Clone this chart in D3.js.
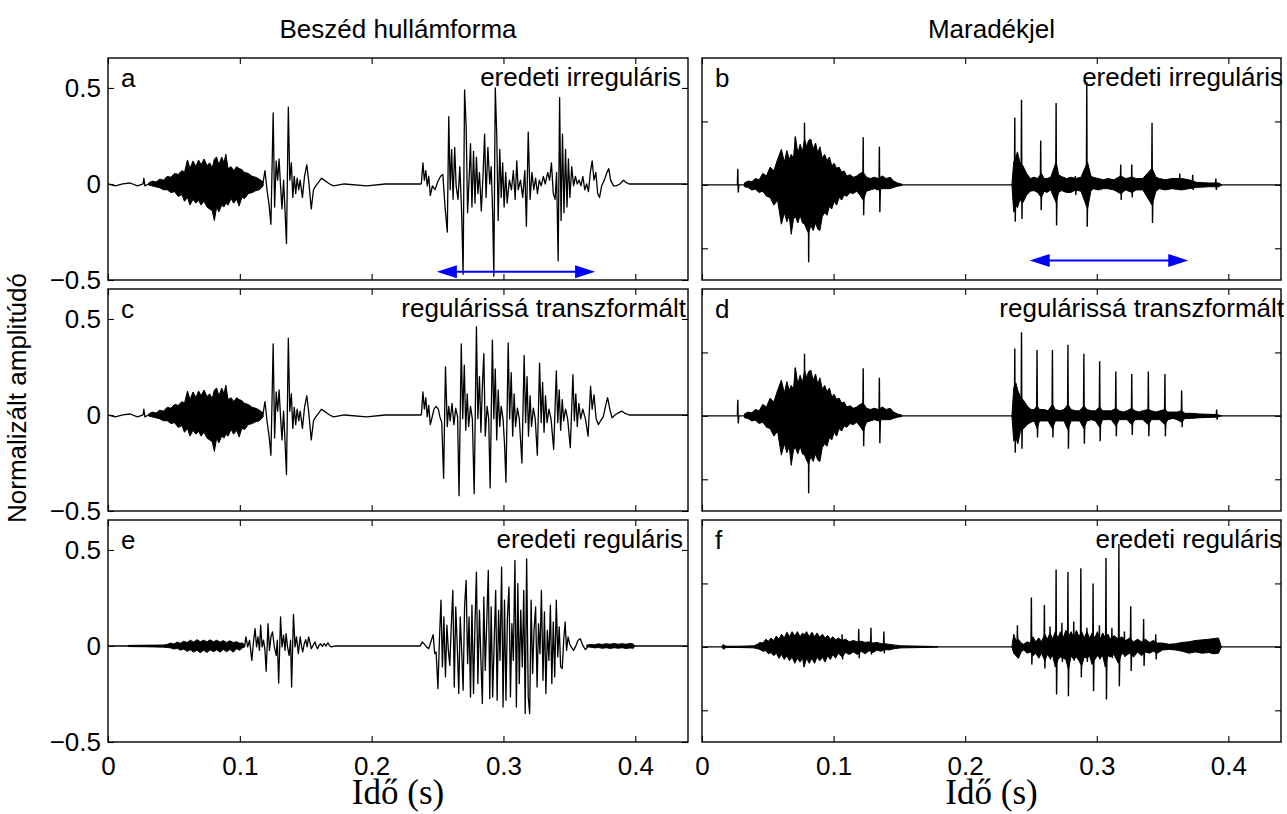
<!DOCTYPE html>
<html><head><meta charset="utf-8">
<script src="https://cdn.jsdelivr.net/npm/d3@7"></script>
<style>body{margin:0;background:#fff}svg{display:block}</style>
</head><body>
<svg id="chart" width="1287" height="814"></svg>
<script>
// ---------------- DATA (time in ms, amplitude normalised) ----------------
const xTicks = [0, 0.1, 0.2, 0.3, 0.4];
const xTickLabels = ["0", "0.1", "0.2", "0.3", "0.4"];
const yTicks = [-0.5, 0, 0.5];
const yTickLabels = ["\u22120.5", "0", "0.5"];
const columnTitles = ["Beszéd hullámforma", "Maradékjel"];
const panelLetters = ["a", "b", "c", "d", "e", "f"];
const panelNotes = ["eredeti irreguláris", "eredeti irreguláris", "regulárissá transzformált",
                    "regulárissá transzformált", "eredeti reguláris", "eredeti reguláris"];
const xLabel = "Idő (s)";
const yLabel = "Normalizált amplitúdó";

// first syllable of the speech waveform (panels a and c are identical there)
const s1Trace = [[0,0],[5.6,-0.01],[11.2,0],[16.8,0.005],[22.4,-0.01],[26.6,0],[27.2,0.03],[28.0,-0.01],[30.8,0],
 [117.7,0.01],[119.1,0.07],[120.6,-0.03],[122.2,-0.11],[123.6,-0.21],[125.3,0.37],[126.4,-0.12],[127.6,0.12],
 [128.7,0.02],[129.8,0.13],[130.9,-0.01],[132.0,-0.13],[133.2,0.02],[134.3,-0.14],[135.4,-0.31],[136.8,0.40],
 [137.9,0.02],[139.1,0.11],[140.2,-0.07],[141.3,0.04],[142.4,-0.05],[143.5,0.03],[144.7,-0.03],[145.8,0.02],
 [147.5,-0.07],[149.1,0.04],[150.8,0.10],[152.2,0.02],[154.2,-0.13],[155.9,-0.03],[157.6,-0.01],[159.8,0.01],
 [162.0,0.03],[164.0,0.02],[166.0,0.01],[168.2,0],[171.0,-0.01],[179.4,0],[196.2,-0.01],[210.3,0],[224.3,0],[237.7,0]];
const s1Env = [[30.8,0.005,-0.005],[33.6,0.015,-0.01],[36.4,0.01,-0.015],[39.2,0.025,-0.02],[42.1,0.02,-0.03],
 [44.9,0.04,-0.03],[47.7,0.035,-0.045],[50.5,0.055,-0.04],[53.3,0.05,-0.065],[56.1,0.07,-0.055],[58.0,0.06,-0.09],
 [60.3,0.125,-0.07],[62.2,0.08,-0.11],[64.5,0.12,-0.08],[66.7,0.09,-0.10],[68.7,0.125,-0.085],[70.6,0.10,-0.11],
 [72.9,0.13,-0.09],[75.1,0.095,-0.12],[77.1,0.11,-0.13],[79.1,0.085,-0.14],[80.7,0.13,-0.19],[82.4,0.14,-0.12],
 [84.1,0.10,-0.145],[86.3,0.14,-0.11],[88.0,0.11,-0.12],[89.4,0.155,-0.10],[91.1,0.08,-0.11],[93.4,0.09,-0.075],
 [95.3,0.07,-0.10],[97.6,0.09,-0.08],[99.5,0.08,-0.115],[101.5,0.075,-0.07],[103.7,0.06,-0.075],[106.5,0.055,-0.05],
 [109.3,0.04,-0.045],[112.1,0.035,-0.035],[114.9,0.025,-0.03],[117.7,0.01,-0.01]];

// second syllable, panel a (original irregular)
const aTrace2 = [[237.7,0],[238.9,0.11],[240.0,0.02],[241.1,0.07],[242.2,-0.01],[243.3,0.04],[244.5,-0.06],[246.1,-0.01],
 [248.1,-0.03],[250.1,0.01],[252.3,0.04],[254.0,0.05],[255.7,-0.12],[257.4,-0.25],[258.5,0.35],[259.6,-0.03],
 [260.7,0.18],[261.8,-0.08],[263.0,0.19],[264.1,-0.01],[265.5,-0.08],[266.9,0.09],[268.3,-0.15],[269.4,-0.47],
 [270.5,0.49],[271.7,0.30],[272.8,-0.15],[273.9,0.02],[275.0,0.21],[276.1,-0.12],[277.3,0.17],[278.4,-0.10],
 [279.5,0.14],[280.6,-0.05],[281.8,0.06],[283.2,-0.14],[284.6,0.06],[285.7,0.26],[286.8,-0.07],[288.2,0.19],
 [289.6,0],[290.7,0.09],[291.8,-0.15],[292.7,-0.48],[293.8,0.50],[294.9,0.26],[296.0,-0.19],[297.2,0.18],
 [298.3,-0.07],[299.4,0.11],[300.5,-0.12],[301.7,0.06],[302.8,-0.10],[304.5,0.02],[306.1,-0.03],[307.5,0.07],
 [308.9,-0.08],[310.1,0.12],[311.2,-0.03],[312.9,0.02],[314.6,-0.07],[316.2,0.07],[317.4,-0.22],[318.8,0.27],
 [320.2,-0.08],[321.6,0.06],[323.0,-0.03],[324.4,0.03],[325.8,-0.05],[327.2,0.02],[328.6,-0.01],[330.3,0.04],
 [331.7,0],[333.6,0.06],[335.0,0.02],[336.4,0.11],[337.8,-0.05],[339.2,-0.08],[340.3,0.06],[341.5,-0.40],
 [342.6,0.45],[343.7,-0.19],[344.8,0.26],[345.9,-0.15],[347.1,0.18],[348.2,-0.12],[349.3,0.13],[350.4,-0.07],
 [351.8,0.09],[353.2,-0.01],[354.6,0.04],[356.0,0],[357.4,0.02],[358.8,-0.01],[360.2,0.04],[361.7,-0.03],
 [363.1,0],[364.5,-0.04],[365.9,0.06],[367.3,0.12],[368.7,0.02],[370.1,0.06],[371.5,-0.05],[372.9,-0.07],
 [374.5,-0.01],[376.5,0.02],[378.5,0.06],[379.9,0.08],[381.3,0.02],[383.5,-0.01],[385.5,-0.01],[388.3,0],
 [391.1,0.02],[392.5,0.01],[395.3,0],[398.1,0],[440,0]];

// second syllable, panel c (transformed to regular)
const cTrace2 = [[237.7,0],[238.9,0.12],[240.0,0.03],[241.1,0.09],[242.2,-0.01],[243.3,0.05],[244.5,-0.05],[245.6,-0.02],
 [247.3,0.03],[248.9,0.045],[250.6,0.03],[251.8,-0.01],[253.2,-0.04],[254.6,-0.33],[256.0,0.25],[257.4,-0.06],
 [258.5,0.045],[259.6,-0.03],[261.0,0.06],[262.4,-0.05],[263.8,0.035],[265.2,-0.01],[266.3,-0.42],[268.0,0.37],
 [269.1,-0.02],[270.3,0.26],[271.4,-0.08],[272.5,0.11],[273.6,-0.06],[275.0,0.045],[276.4,-0.02],[277.8,-0.41],
 [279.5,0.46],[280.6,-0.02],[281.8,0.20],[282.9,-0.09],[284.0,0.15],[285.1,0.32],[286.2,-0.11],[287.6,0.045],
 [288.8,-0.02],[289.9,-0.38],[291.6,0.39],[292.7,-0.02],[293.8,0.24],[294.9,-0.13],[296.0,0.13],[297.2,-0.06],
 [298.3,0.045],[299.7,-0.02],[300.8,-0.15],[301.9,-0.35],[303.6,0.375],[304.7,-0.02],[305.9,0.22],[307.0,-0.11],
 [308.1,0.11],[309.2,-0.06],[310.6,0.035],[312.0,-0.02],[314.0,-0.25],[315.7,0.31],[316.8,-0.04],[317.9,0.20],
 [319.0,-0.11],[320.2,0.10],[321.3,-0.06],[322.7,0.035],[324.1,-0.02],[325.7,-0.21],[327.4,0.27],[328.6,-0.04],
 [329.7,0.17],[330.8,-0.09],[331.9,0.10],[333.1,-0.04],[334.5,0.03],[336.1,-0.02],[338.1,-0.18],[340.1,0.23],
 [341.2,-0.04],[342.3,0.13],[343.4,-0.08],[344.6,0.08],[345.7,-0.03],[347.1,0.03],[348.7,-0.02],[350.7,-0.17],
 [352.7,0.21],[353.8,-0.03],[354.9,0.11],[356.0,-0.06],[357.2,0.06],[358.6,-0.02],[360.2,0.03],[362.2,-0.02],
 [364.2,-0.11],[366.1,0.15],[367.3,0.03],[368.7,0.105],[370.3,-0.02],[372.0,-0.05],[373.7,-0.03],[375.7,-0.01],
 [377.4,0.045],[379.0,0.09],[380.7,0.03],[382.4,-0.015],[384.6,0],[386.9,0.01],[389.7,0.02],[391.9,0.01],
 [395.3,0],[440,0]];

// panel e (original regular speech)
const eTrace = [[0,0],[15.4,0],[103.7,0],[104.6,0.047],[106.0,-0.005],[107.4,0.03],[109.1,-0.075],[110.5,0.03],
 [111.6,0.09],[112.7,-0.005],[113.8,0.047],[114.9,-0.023],[115.8,0.108],[116.9,-0.005],[118.0,0.03],[119.1,-0.023],
 [120.0,-0.132],[121.4,0.116],[122.5,-0.023],[123.6,0.047],[124.8,0.073],[126.2,-0.005],[127.6,-0.049],[128.4,0.03],
 [129.5,-0.193],[130.9,0.151],[132.0,-0.005],[133.2,0.056],[134.3,-0.023],[135.1,0.064],[136.2,-0.005],[137.4,-0.049],
 [138.5,0.03],[139.3,-0.214],[140.7,0.165],[141.9,-0.005],[143.0,0.047],[144.4,-0.04],[145.8,0.047],[146.9,-0.005],
 [147.7,-0.031],[148.9,0.012],[150.0,0.033],[151.1,-0.005],[152.2,0.047],[153.4,0.012],[154.2,-0.014],[155.6,0.003],
 [157.0,0.021],[158.1,-0.002],[159.0,-0.014],[160.1,0.003],[161.2,0.012],[162.6,-0.002],[164.0,0.012],[165.4,0],
 [166.8,0.016],[168.2,0],[169.6,-0.005],[172.4,0],[236.9,0],[238.3,0.021],[239.7,0.012],[241.7,-0.005],
 [243.3,-0.014],[245.3,0.03],[246.7,0.059],[247.8,-0.04],[248.9,-0.031],[250.3,-0.222],[251.5,0.047],[252.6,0.238],
 [253.7,-0.109],[254.8,0.151],[256.0,-0.161],[257.1,0.108],[258.2,-0.023],[259.3,-0.101],[260.4,0.099],[261.6,0.29],
 [262.7,-0.214],[263.8,0.203],[264.9,0.012],[266.1,-0.248],[267.2,0.151],[268.3,-0.023],[269.4,-0.231],[270.5,0.203],
 [271.7,0.342],[272.8,-0.092],[273.9,0.151],[275.0,-0.266],[276.1,0.212],[277.3,-0.248],[278.4,0.116],[279.5,0.385],
 [280.6,-0.196],[281.8,0.186],[282.9,-0.075],[284.0,-0.30],[285.1,0.255],[286.2,-0.127],[287.4,0.142],[288.5,0.394],
 [289.6,-0.274],[290.7,0.203],[291.8,-0.266],[293.0,0.03],[294.1,0.29],[295.2,-0.283],[296.3,0.186],[297.4,-0.075],
 [298.6,0.411],[299.7,-0.318],[300.8,0.238],[301.9,-0.283],[303.0,0.151],[304.2,0.307],[305.3,-0.266],[306.4,0.116],
 [307.5,-0.075],[308.7,0.446],[309.8,-0.318],[310.9,0.325],[312.0,-0.196],[313.1,0.186],[314.3,-0.109],[315.4,0.29],
 [316.5,-0.352],[317.6,0.453],[318.8,-0.266],[319.9,-0.352],[321.0,0.238],[322.1,-0.144],[323.2,0.082],[324.4,0.203],
 [325.5,-0.214],[326.6,0.116],[327.7,-0.04],[328.8,0.29],[330.0,-0.179],[331.1,0.177],[332.2,-0.248],[333.3,0.082],
 [334.5,-0.075],[335.6,0.212],[336.7,-0.196],[337.8,0.125],[338.9,-0.161],[340.1,0.238],[341.2,-0.057],[342.3,0.099],
 [343.4,-0.109],[344.6,-0.118],[345.7,0.03],[346.8,0.125],[347.9,-0.023],[349.0,0.047],[350.2,0.012],[351.3,-0.005],
 [353.2,-0.023],[354.9,0],[356.6,0.03],[358.3,0.038],[360.2,0.003],[362.2,-0.019],[364.5,0],[399.5,0],[440,0]];
const eEnv = [[15.4,0.003,-0.003],[28.0,0.004,-0.004],[42.1,0.005,-0.006],[44.9,0.008,-0.008],[47.5,0.015,-0.01],
 [50.0,0.01,-0.016],[52.5,0.02,-0.012],[55.0,0.014,-0.022],[57.5,0.025,-0.016],[60.0,0.018,-0.028],[62.5,0.03,-0.02],
 [65.0,0.02,-0.032],[67.5,0.033,-0.022],[70.0,0.022,-0.035],[72.5,0.03,-0.022],[75.0,0.022,-0.034],[77.5,0.032,-0.02],
 [80.0,0.022,-0.03],[82.5,0.03,-0.02],[85.0,0.02,-0.032],[87.5,0.028,-0.018],[90.0,0.018,-0.03],[92.5,0.027,-0.018],
 [95.0,0.018,-0.032],[97.5,0.022,-0.015],[100.0,0.014,-0.022],[102.0,0.016,-0.01],[103.7,0.005,-0.005]];
const eEnv2 = [[363.1,0.004,-0.004],[366.0,0.008,-0.006],[369.0,0.006,-0.01],[372.0,0.011,-0.008],[375.0,0.008,-0.012],
 [378.0,0.012,-0.009],[381.0,0.009,-0.013],[384.0,0.013,-0.009],[387.0,0.009,-0.012],[390.0,0.012,-0.009],
 [393.0,0.009,-0.013],[396.0,0.013,-0.01],[398.5,0.01,-0.012],[399.5,0,0]];

// residual signal: first syllable shared by panels b and d
const r1Env = [[32.2,0.015,-0.015],[35.0,0.03,-0.02],[37.8,0.025,-0.04],[40.6,0.05,-0.035],[43.4,0.04,-0.06],
 [46.2,0.09,-0.05],[49.0,0.07,-0.09],[51.8,0.14,-0.10],[54.6,0.11,-0.16],[57.4,0.20,-0.12],[60.3,0.28,-0.31],
 [62.6,0.18,-0.22],[64.5,0.27,-0.29],[66.3,0.20,-0.24],[67.8,0.24,-0.39],[69.5,0.21,-0.27],[71.0,0.38,-0.25],
 [72.8,0.25,-0.30],[74.6,0.32,-0.24],[76.3,0.26,-0.30],[78.0,0.36,-0.31],[79.5,0.30,-0.35],[81.0,0.35,-0.38],
 [82.7,0.36,-0.32],[84.5,0.28,-0.36],[86.3,0.33,-0.30],[88.0,0.25,-0.35],[89.6,0.30,-0.36],[91.4,0.21,-0.25],
 [93.2,0.24,-0.22],[95.0,0.19,-0.24],[96.8,0.22,-0.17],[98.6,0.15,-0.19],[100.4,0.17,-0.13],[102.3,0.13,-0.16],
 [104.2,0.14,-0.10],[106.1,0.10,-0.12],[108.0,0.11,-0.08],[110.0,0.07,-0.09],[112.5,0.08,-0.06],[115.0,0.06,-0.07],
 [117.5,0.07,-0.05],[120.0,0.09,-0.08],[122.5,0.10,-0.12],[125.0,0.06,-0.05],[128.0,0.05,-0.04],[131.0,0.06,-0.03],
 [134.0,0.05,-0.04],[137.0,0.07,-0.03],[140.0,0.05,-0.03],[143.0,0.06,-0.03],[145.5,0.03,-0.02],[148.6,0.015,-0.01],
 [152.0,0.005,-0.005]];
const r1Spikes = [[27.2,0.126,-0.06],[70.9,0.38,-0.20],[77.9,0.49,-0.20],[80.7,0.30,-0.61],[122.5,0.375,-0.24],
 [134.8,0.30,-0.215]];
const zeroLine = [[0,0],[440,0]];

// panel b second syllable
const bEnv2 = [[235.5,0,0],[236.9,0.18,-0.215],[238.5,0.22,-0.16],[239.7,0.26,-0.18],[241.5,0.18,-0.12],
 [243.9,0.15,-0.14],[246.7,0.09,-0.08],[249.5,0.05,-0.05],[252.3,0.06,-0.045],[255.0,0.05,-0.06],[257.9,0.09,-0.10],
 [260.0,0.05,-0.05],[262.1,0.05,-0.06],[265.0,0.06,-0.04],[269.1,0.18,-0.14],[271.0,0.08,-0.06],[273.3,0.065,-0.045],
 [277.0,0.05,-0.06],[280.3,0.06,-0.06],[284.0,0.05,-0.04],[288.0,0.06,-0.05],[293.0,0.18,-0.19],[295.5,0.07,-0.05],
 [297.2,0.06,-0.03],[301.0,0.05,-0.04],[305.0,0.04,-0.03],[308.4,0.05,-0.03],[313.0,0.04,-0.04],[318.2,0.07,-0.07],
 [322.0,0.05,-0.04],[326.6,0.06,-0.06],[330.0,0.05,-0.04],[335.0,0.05,-0.04],[342.0,0.13,-0.16],[345.0,0.06,-0.05],
 [347.6,0.05,-0.03],[352.0,0.04,-0.04],[357.0,0.05,-0.03],[364.5,0.05,-0.04],[370.0,0.04,-0.03],[375.7,0.02,-0.02],
 [385.0,0.015,-0.015],[392.5,0.015,-0.015],[395.3,0,0]];
const bSpikes2 = [[237.7,0.53,-0.29],[242.8,0.67,-0.27],[257.4,0.35,-0.20],[269.1,0.645,-0.32],[292.4,0.81,-0.33],
 [283.7,0.07,-0.08],[318.2,0.16,-0.12],[326.6,0.16,-0.10],[342.0,0.49,-0.30],[363.1,0.09,-0.04],[372.9,0.08,-0.04],
 [390.5,0.05,-0.04]];

// panel d second syllable
const dEnv2 = [[235.5,0,0],[236.9,0.22,-0.2],[238.5,0.26,-0.17],[240.0,0.20,-0.22],[242.0,0.15,-0.12],
 [244.5,0.12,-0.10],[247.0,0.08,-0.07],[250.0,0.05,-0.05],[252.5,0.05,-0.04],[254.6,0.08,-0.10],[256.5,0.05,-0.04],
 [260.0,0.05,-0.04],[263.0,0.04,-0.04],[266.3,0.09,-0.10],[268.5,0.05,-0.04],[272.0,0.04,-0.04],[275.0,0.05,-0.04],
 [278.1,0.09,-0.11],[280.5,0.05,-0.04],[284.0,0.04,-0.04],[287.0,0.04,-0.04],[290.2,0.08,-0.10],[292.5,0.05,-0.04],
 [296.0,0.04,-0.03],[299.0,0.04,-0.04],[302.2,0.07,-0.09],[304.5,0.04,-0.03],[308.0,0.04,-0.03],[311.0,0.04,-0.03],
 [314.5,0.06,-0.08],[317.0,0.04,-0.03],[320.0,0.03,-0.03],[323.0,0.04,-0.03],[326.6,0.06,-0.07],[329.0,0.04,-0.03],
 [332.0,0.03,-0.03],[335.0,0.04,-0.03],[339.2,0.05,-0.07],[341.5,0.04,-0.03],[345.0,0.03,-0.03],[348.0,0.04,-0.03],
 [351.8,0.05,-0.07],[354.0,0.03,-0.03],[358.0,0.03,-0.02],[361.0,0.03,-0.03],[364.5,0.04,-0.05],[367.0,0.02,-0.02],
 [372.0,0.02,-0.02],[378.0,0.015,-0.015],[391.0,0.01,-0.01],[395.0,0,0]];
const dSpikes2 = [[237.7,0.53,-0.29],[242.8,0.66,-0.26],[254.6,0.52,-0.17],[266.3,0.52,-0.17],[278.1,0.56,-0.26],
 [290.2,0.49,-0.22],[302.2,0.43,-0.20],[314.5,0.35,-0.16],[326.6,0.33,-0.15],[339.2,0.35,-0.16],[351.8,0.33,-0.16],
 [364.5,0.20,-0.09],[391.1,0.05,-0.03]];

// panel f (residual of regular speech)
const fEnv = [[15.4,0.01,-0.01],[19.6,0.005,-0.005],[28.0,0.005,-0.005],[39.2,0.008,-0.008],[42.1,0.02,-0.015],
 [44.0,0.035,-0.02],[46.3,0.03,-0.035],[48.5,0.06,-0.03],[50.5,0.045,-0.055],[52.5,0.07,-0.045],[54.5,0.05,-0.07],
 [56.5,0.085,-0.05],[58.5,0.06,-0.09],[60.5,0.10,-0.06],[62.5,0.07,-0.10],[64.5,0.115,-0.07],[66.5,0.08,-0.11],
 [68.5,0.12,-0.08],[70.5,0.085,-0.13],[72.5,0.12,-0.09],[74.5,0.08,-0.12],[76.5,0.11,-0.09],[77.5,0.09,-0.16],
 [79.5,0.12,-0.09],[81.5,0.08,-0.13],[83.5,0.115,-0.09],[85.5,0.08,-0.13],[87.5,0.11,-0.08],[89.5,0.075,-0.11],
 [91.5,0.10,-0.08],[93.5,0.07,-0.12],[95.5,0.09,-0.07],[97.5,0.06,-0.10],[99.5,0.08,-0.06],[101.5,0.055,-0.09],
 [103.5,0.07,-0.05],[106.5,0.05,-0.08],[109.0,0.06,-0.045],[112.0,0.04,-0.06],[115.0,0.05,-0.04],[118.0,0.04,-0.06],
 [121.0,0.045,-0.035],[124.0,0.035,-0.055],[127.0,0.04,-0.03],[130.0,0.03,-0.045],[133.0,0.035,-0.025],
 [136.0,0.025,-0.035],[139.0,0.025,-0.02],[142.0,0.02,-0.025],[145.8,0.015,-0.015],[151.4,0.008,-0.008],
 [173.8,0.004,-0.004],[179.4,0,0]];
const fEnv2 = [[235.5,0,0],[236.9,0.10,-0.05],[238.5,0.05,-0.07],[240.5,0.06,-0.09],[242.5,0.03,-0.04],
 [244.5,0.02,-0.025],[247.0,0.04,-0.05],[249.5,0.03,-0.04],[251.5,0.08,-0.07],[253.5,0.04,-0.05],[256.0,0.07,-0.09],
 [258.0,0.04,-0.05],[260.5,0.10,-0.11],[262.5,0.06,-0.06],[264.5,0.11,-0.09],[266.5,0.06,-0.07],[268.5,0.12,-0.16],
 [270.5,0.07,-0.10],[272.5,0.12,-0.08],[274.5,0.07,-0.09],[276.5,0.13,-0.10],[278.5,0.08,-0.18],[280.5,0.12,-0.07],
 [282.5,0.07,-0.10],[284.5,0.13,-0.08],[286.5,0.08,-0.11],[288.5,0.12,-0.15],[290.5,0.07,-0.08],[292.5,0.12,-0.09],
 [294.5,0.07,-0.07],[296.5,0.11,-0.14],[298.5,0.07,-0.10],[300.5,0.12,-0.07],[302.5,0.06,-0.09],[304.5,0.11,-0.07],
 [306.5,0.07,-0.16],[308.5,0.10,-0.07],[310.5,0.06,-0.08],[313.0,0.09,-0.06],[316.5,0.06,-0.13],[319.0,0.08,-0.05],
 [322.0,0.05,-0.07],[325.0,0.07,-0.05],[328.0,0.04,-0.08],[331.0,0.06,-0.04],[334.0,0.04,-0.07],[337.0,0.06,-0.04],
 [340.0,0.035,-0.05],[343.0,0.05,-0.035],[346.0,0.03,-0.05],[350.0,0.03,-0.025],[355.0,0.02,-0.02],[360.0,0.025,-0.025],
 [365.0,0.035,-0.035],[370.0,0.04,-0.05],[375.0,0.05,-0.04],[380.0,0.055,-0.05],[385.0,0.06,-0.045],
 [389.0,0.065,-0.055],[392.5,0.07,-0.05],[394.7,0,0]];
const fSpikes = [[16.3,0.02,-0.02],[106.5,0.10,-0.10],[119.1,0.14,-0.09],[128.4,0.15,-0.06],[138.2,0.12,-0.05],
 [239.7,0.17,-0.09],[250.3,0.39,-0.14],[260.2,0.33,-0.17],[264.5,0.16,-0.10],[269.1,0.61,-0.375],[273.5,0.19,-0.12],
 [278.1,0.59,-0.39],[282.5,0.20,-0.11],[287.9,0.62,-0.24],[292.5,0.15,-0.12],[297.2,0.50,-0.35],[302.0,0.17,-0.10],
 [307.0,0.70,-0.415],[311.5,0.15,-0.09],[316.8,0.81,-0.31],[321.0,0.12,-0.08],[325.8,0.32,-0.19],[335.6,0.22,-0.15],
 [344.8,0.10,-0.10]];

// blue double arrows: [start s, end s, amplitude]
const arrowA = [0.2495, 0.3695, -0.457];
const arrowB = [0.249, 0.3695, -0.596];

// ---------------- LAYOUT ----------------
const svg = d3.select("#chart");
const FONT = "'Liberation Sans', Arial, Helvetica, sans-serif";
const cols = [{x0:108, x1:688}, {x0:702, x1:1281}];
const rows = [{y0:58, y1:280}, {y0:289, y1:511}, {y0:520, y1:742}];
const yDomains = [[-0.5, 0.656], [-0.75, 1.0]];

const panels = [
  {c:0, r:0, traces:[s1Trace, aTrace2], envs:[s1Env], spikes:[], arrow:arrowA, noteEnd:681},
  {c:1, r:0, traces:[zeroLine], envs:[r1Env, bEnv2], spikes:[r1Spikes, bSpikes2], arrow:arrowB, noteEnd:1283},
  {c:0, r:1, traces:[s1Trace, cTrace2], envs:[s1Env], spikes:[], arrow:null, noteEnd:686},
  {c:1, r:1, traces:[zeroLine], envs:[r1Env, dEnv2], spikes:[r1Spikes, dSpikes2], arrow:null, noteEnd:1284},
  {c:0, r:2, traces:[eTrace], envs:[eEnv, eEnv2], spikes:[], arrow:null, noteEnd:683},
  {c:1, r:2, traces:[zeroLine], envs:[fEnv, fEnv2], spikes:[fSpikes], arrow:null, noteEnd:1282},
];

panels.forEach((p, i) => {
  const col = cols[p.c], row = rows[p.r];
  const x = d3.scaleLinear().domain([0, 0.44]).range([col.x0, col.x1]);
  const y = d3.scaleLinear().domain(yDomains[p.c]).range([row.y1, row.y0]);
  const g = svg.append("g");
  const clipId = "clip" + i;
  svg.append("clipPath").attr("id", clipId).append("rect")
    .attr("x", col.x0).attr("y", row.y0).attr("width", col.x1 - col.x0).attr("height", row.y1 - row.y0);
  const plot = g.append("g").attr("clip-path", `url(#${clipId})`);

  const area = d3.area().x(d => x(d[0] / 1000)).y0(d => y(d[2])).y1(d => y(d[1]));
  const line = d3.line().x(d => x(d[0] / 1000)).y(d => y(d[1]));

  p.traces.forEach(t => plot.append("path").attr("d", line(t))
    .attr("fill", "none").attr("stroke", "#000").attr("stroke-width", 1.3).attr("stroke-linejoin", "round"));
  p.envs.forEach(e => plot.append("path").attr("d", area(e))
    .attr("fill", "#000").attr("stroke", "#000").attr("stroke-width", 1).attr("stroke-linejoin", "round"));
  p.spikes.forEach(sp => sp.forEach(s => {
    const pts = [[s[0] - 0.3, 0], [s[0], s[1]], [s[0] + 0.35, s[2]], [s[0] + 0.8, 0]];
    plot.append("path").attr("d", line(pts)).attr("fill", "none")
      .attr("stroke", "#000").attr("stroke-width", 1.4).attr("stroke-linejoin", "miter");
  }));

  // blue double arrow
  if (p.arrow) {
    const [a0, a1, av] = p.arrow;
    const X0 = x(a0), X1 = x(a1), Y = y(av), hl = 20, hw = 6.5;
    const ag = g.append("g");
    ag.append("line").attr("x1", X0 + hl - 2).attr("x2", X1 - hl + 2).attr("y1", Y).attr("y2", Y)
      .attr("stroke", "#0000ff").attr("stroke-width", 2);
    ag.append("path").attr("d", `M${X0},${Y}L${X0 + hl},${Y - hw}L${X0 + hl},${Y + hw}Z`).attr("fill", "#0000ff");
    ag.append("path").attr("d", `M${X1},${Y}L${X1 - hl},${Y - hw}L${X1 - hl},${Y + hw}Z`).attr("fill", "#0000ff");
  }

  // axes (MATLAB style, ticks inside on all four sides)
  const bottom = d3.axisBottom(x).tickValues(xTicks).tickSizeInner(-6).tickSizeOuter(0).tickPadding(15)
    .tickFormat((d, k) => p.r === 2 ? xTickLabels[k] : "");
  const top = d3.axisTop(x).tickValues(xTicks).tickSizeInner(-6).tickSizeOuter(0).tickFormat("");
  const left = d3.axisLeft(y).tickValues(yTicks).tickSizeInner(-6).tickSizeOuter(0).tickPadding(7)
    .tickFormat((d, k) => p.c === 0 ? yTickLabels[k] : "");
  const right = d3.axisRight(y).tickValues(yTicks).tickSizeInner(-6).tickSizeOuter(0).tickFormat("");
  const styleAxis = sel => {
    sel.select(".domain").remove();
    sel.selectAll(".tick line").attr("stroke", "#000").attr("stroke-width", 1.1);
    sel.selectAll(".tick text").attr("fill", "#000").style("font-family", FONT).style("font-size", "26px");
  };
  g.append("g").attr("transform", `translate(0,${row.y1})`).call(bottom).call(styleAxis);
  g.append("g").attr("transform", `translate(0,${row.y0})`).call(top).call(styleAxis);
  g.append("g").attr("transform", `translate(${col.x0},0)`).call(left).call(styleAxis);
  g.append("g").attr("transform", `translate(${col.x1},0)`).call(right).call(styleAxis);

  // box
  g.append("rect").attr("x", col.x0).attr("y", row.y0).attr("width", col.x1 - col.x0).attr("height", row.y1 - row.y0)
    .attr("fill", "none").attr("stroke", "#000").attr("stroke-width", 1.4);

  // letter and note
  g.append("text").attr("x", col.x0 + 13).attr("y", row.y0 + 29).text(panelLetters[i])
    .style("font-family", FONT).style("font-size", "26px");
  g.append("text").attr("x", p.noteEnd).attr("y", row.y0 + 28).attr("text-anchor", "end").text(panelNotes[i])
    .style("font-family", FONT).style("font-size", "26px");
});

// column titles and x labels
cols.forEach((col, k) => {
  const cx = (col.x0 + col.x1) / 2;
  svg.append("text").attr("x", cx).attr("y", 38).attr("text-anchor", "middle").text(columnTitles[k])
    .style("font-family", FONT).style("font-size", "26px");
  svg.append("text").attr("x", cx).attr("y", 804).attr("text-anchor", "middle").text(xLabel)
    .style("font-family", "'Liberation Serif', 'Times New Roman', serif").style("font-size", "35px");
});
// y label
svg.append("text").attr("transform", "translate(26,398) rotate(-90)").attr("text-anchor", "middle").text(yLabel)
  .style("font-family", FONT).style("font-size", "26px");
</script>
</body></html>
